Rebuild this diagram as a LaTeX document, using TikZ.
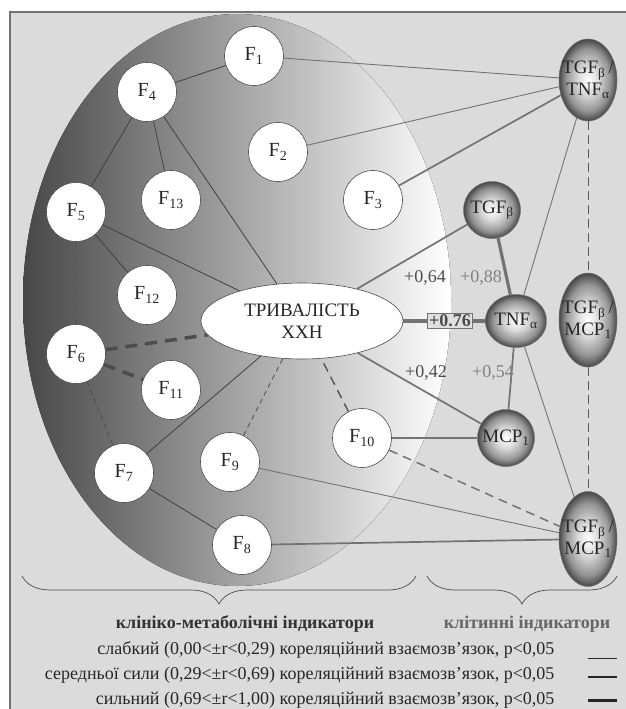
\documentclass[tikz,border=0pt]{standalone}
\usepackage{fontspec}
\setmainfont{Liberation Serif}
\usetikzlibrary{shapes.geometric, decorations.pathreplacing}
\pgfdeclareradialshading{orb}{\pgfpoint{0bp}{0bp}}{color(0bp)=(white); color(9bp)=(black!15); color(19bp)=(black!42); color(25bp)=(black!72); color(50bp)=(black!72)}
\pgfdeclarelayer{back}
\pgfdeclarelayer{links}
\pgfsetlayers{back,links,main}

\begin{document}
\begin{tikzpicture}[x=1pt, y=-1pt,
    every node/.style={font=\fontsize{18}{21}\selectfont, text=black!85},
    fcirc/.style={circle, draw=black!70, line width=0.6pt, fill=white, minimum size=59pt, inner sep=0pt, font=\fontsize{20}{22}\selectfont},
    cell/.style={circle, draw=black!55, line width=0.5pt, shade, shading=orb, minimum size=57pt, inner sep=0pt, font=\fontsize{19}{22}\selectfont},
    pair/.style={ellipse, draw=black!55, line width=0.5pt, shade, shading=orb, minimum width=58pt, minimum height=#1, inner sep=-10pt, align=center, font=\fontsize{19}{22}\selectfont},
    weak/.style={black!75, line width=0.8pt},
    lite/.style={black!55, line width=0.9pt},
    mid/.style={black!55, line width=1.7pt},
    heavy/.style={black!55, line width=3.2pt},
    fdash/.style={black!70, line width=0.8pt, dash pattern=on 5pt off 4pt},
    mdash/.style={black!65, line width=1.5pt, dash pattern=on 9pt off 6pt},
    hdash/.style={black!70, line width=3.5pt, dash pattern=on 12pt off 8pt},
    vdash/.style={black!65, line width=0.9pt, dash pattern=on 9pt off 5pt},
    coef/.style={text=black!70},
    coefl/.style={text=black!50}]

  \useasboundingbox (0,0) rectangle (625,709);

  \begin{pgfonlayer}{back}
    \fill[black!14] (10,12) rectangle (640,720);
    \draw[black!55, line width=1.2pt] (10,720) -- (10,12) -- (640,12);
    \fill[left color=black!72, middle color=black!30, right color=white]
      (237,300) ellipse [x radius=214pt, y radius=286pt];
  \end{pgfonlayer}

  % clinical indicators
  \node[fcirc] (f1) at (254,56) {F\textsubscript{1}};
  \node[fcirc] (f2) at (278,152) {F\textsubscript{2}};
  \node[fcirc] (f3) at (373,200) {F\textsubscript{3}};
  \node[fcirc] (f4) at (147,92) {F\textsubscript{4}};
  \node[fcirc] (f5) at (76,212) {F\textsubscript{5}};
  \node[fcirc] (f6) at (76,354) {F\textsubscript{6}};
  \node[fcirc] (f7) at (124,473) {F\textsubscript{7}};
  \node[fcirc] (f8) at (242,545) {F\textsubscript{8}};
  \node[fcirc] (f9) at (230,462) {F\textsubscript{9}};
  \node[fcirc] (f10) at (362,438) {F\textsubscript{10}};
  \node[fcirc] (f11) at (171,390) {F\textsubscript{11}};
  \node[fcirc] (f12) at (147,295) {F\textsubscript{12}};
  \node[fcirc] (f13) at (171,200) {F\textsubscript{13}};

  \node[ellipse, draw=black!70, line width=0.6pt, fill=white, minimum width=202pt, minimum height=76pt, align=center, font=\fontsize{19}{22}\selectfont] (dur) at (302,321) {ТРИВАЛІСТЬ\\ХХН};

  % cell indicators
  \node[cell] (tgf) at (492,210) {TGF\textsubscript{β}};
  \node[cell, ellipse, minimum width=59pt, minimum height=53pt] (tnf) at (516,321) {TNF\textsubscript{α}};
  \node[cell] (mcp) at (506,438) {MCP\textsubscript{1}};

  \node[pair=82pt] (tt) at (588,80) {TGF\textsubscript{β}\,/\\TNF\textsubscript{α}};
  \node[pair=94pt] (tm1) at (588,320) {TGF\textsubscript{β}\,/\\MCP\textsubscript{1}};
  \node[pair=95pt] (tm2) at (588,539) {TGF\textsubscript{β}\,/\\MCP\textsubscript{1}};

  \begin{pgfonlayer}{links}
    \draw[weak] (f1) -- (f4);
    \draw[weak] (f4) -- (f5);
    \draw[weak] (f4) -- (f13);
    \draw[weak] (f4) -- (dur);
    \draw[weak] (f5) -- (dur);
    \draw[black!70, line width=1.2pt] (f5) -- (f12);
    \draw[mdash] (f5) -- (f6);
    \draw[hdash] (f6) -- (dur);
    \draw[hdash] (f6) -- (f11);
    \draw[fdash] (f6) -- (f7);
    \draw[weak] (f7) -- (dur);
    \draw[weak] (f7) -- (f8);
    \draw[fdash] (f9) -- (dur);
    \draw[mdash] (f10) -- (dur);

    \draw[lite] (f1) -- (tt);
    \draw[lite] (f2) -- (tt);
    \draw[mid] (f3) -- (tt);
    \draw[lite] (tnf) -- (tt);
    \draw[lite] (tnf) -- (tm2);
    \draw[vdash] (tt) -- (tm1);
    \draw[vdash] (tm1) -- (tm2);
    \draw[lite] (f9) -- (tm2);
    \draw[mid] (f8) -- (tm2);
    \draw[mdash, black!55] (f10) -- (tm2);
    \draw[mid] (f10) -- (mcp);

    \draw[mid] (dur) -- (tgf);
    \draw[mid] (dur) -- (mcp);
    \draw[heavy] (tgf) -- (tnf);
    \draw[mid] (tnf) -- (mcp);
    \draw[heavy] (dur) -- (tnf)
      node[pos=.57, fill=black!12, draw=black!55, line width=0.6pt, inner sep=1.5pt, font=\fontsize{18}{21}\selectfont\bfseries, text=black!70] (r76) {+0.76};
  \end{pgfonlayer}

  \node[coef] (r64) at (425,278) {+0,64};
  \node[coefl] (r88) at (481,278) {+0,88};
  \node[coef] (r42) at (426,373) {+0,42};
  \node[coefl] (r54) at (493,373) {+0,54};

  % braces and legend
  \draw[black!70, line width=0.7pt, decorate, decoration={brace, mirror, amplitude=28pt}] (22,576) -- (416,576);
  \draw[black!70, line width=0.7pt, decorate, decoration={brace, mirror, amplitude=28pt}] (427,576) -- (617,576);

  \node[anchor=base, font=\fontsize{18}{21}\selectfont\bfseries, text=black!80] (clin) at (245,628) {клініко-метаболічні індикатори};
  \node[anchor=base, font=\fontsize{18}{21}\selectfont\bfseries, text=black!60] (cellt) at (527,628) {клітинні індикатори};

  \node[anchor=base east] (l1) at (558,654) {слабкий (0,00<±r<0,29) кореляційний взаємозв’язок, р<0,05};
  \node[anchor=base east] (l2) at (558,679) {середньої сили (0,29<±r<0,69) кореляційний взаємозв’язок, р<0,05};
  \node[anchor=base east] (l3) at (558,704) {сильний (0,69<±r<1,00) кореляційний взаємозв’язок, р<0,05};

  \draw[black!85, line width=0.8pt] (l1.base east) ++(30,4) -- ++(29,0);
  \draw[black!85, line width=1.5pt] (l2.base east) ++(30,-2) -- ++(29,0);
  \draw[black!85, line width=3pt] (l3.base east) ++(30,-4) -- ++(29,0);
\end{tikzpicture}
\end{document}
